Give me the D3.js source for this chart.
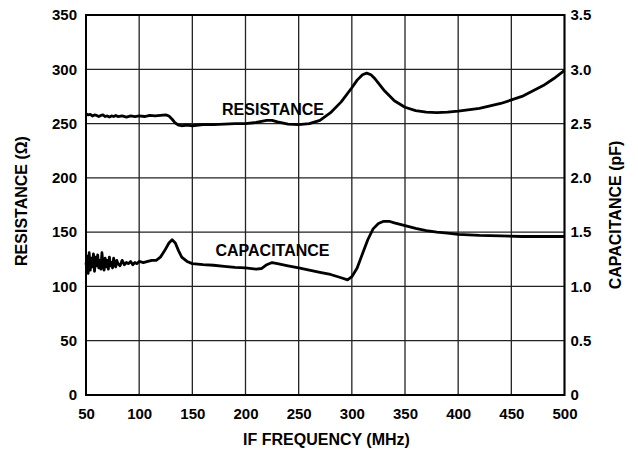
<!DOCTYPE html>
<html><head><meta charset="utf-8">
<script src="https://cdn.jsdelivr.net/npm/d3@7"></script>
<style>body{margin:0;background:#fff}svg{display:block}text{font-family:"Liberation Sans",Arial,sans-serif;font-weight:bold;fill:#000}</style>
</head><body><svg id="c" width="638" height="452"></svg>
<script>
const xTicks=[50,100,150,200,250,300,350,400,450,500];
const yTicksLeft=[0,50,100,150,200,250,300,350];
const yTicksRight=[0,0.5,1.0,1.5,2.0,2.5,3.0,3.5];
const yTicksRightLabels=["0","0.5","1.0","1.5","2.0","2.5","3.0","3.5"];
const resFreq=[50,52,54,56,58,60,62,64,66,68,70,72,74,76,78,80,84,88,92,96,100,105,110,115,120,125,128,131,134,137,140,145,150,160,170,180,190,200,210,215,220,225,230,240,250,260,270,280,290,300,305,310,314,318,322,330,340,350,360,370,380,390,400,420,440,460,480,490,500];
const resVal=[259,258,258.5,257,258,257.5,256.5,257.5,258,256.5,257,256,257,256.5,257.5,256.5,257,256,257,256.5,257,256.5,257.5,257,257.5,258,257,254,250.5,248.5,248,248.5,248,249,249,249.5,250,250,251,252,253,253,251.5,249.5,249,250,253,260,270,283,290,295,296.5,295,291,281,271,265,262,260.5,260,260.5,261.5,264,268.5,275,285,291.5,299];
const capFreq=[50,51,52,53,54,55,56,57,58,59,60,61,62,63,64,65,66,67,68,69,70,71,72,73,74,75,76,77,78,79,80,82,84,86,88,90,92,94,96,98,100,104,108,112,116,120,124,128,131,134,137,140,145,150,160,170,180,190,200,210,215,220,225,230,240,250,260,270,280,290,296,300,305,310,315,320,325,330,335,340,350,360,370,380,390,400,420,440,460,480,500];
const capVal=[120,128,112,131,115,126,118,130,114,127,119,129,117,124,116,131,120,115,126,118,124,116,127,119,122,117,126,120,118,124,121,119,124,120,122,121,123,120,122,121,123,122,123,124,124,127,133,140,143,140,133,127,123,121,120,119.5,118.5,117.5,117,116,116.5,120,122,121,119,117,115,113,111,108,106,109,117,130,143,153,158,160,160,158.5,156,153.5,151.5,150,149,148,147,146.5,146,146,146];

const svg=d3.select("#c");
const L=86,R=564.5,T=15,B=395;
const x=d3.scaleLinear().domain([50,500]).range([L,R]);
const y=d3.scaleLinear().domain([0,350]).range([B,T]);
const y2=d3.scaleLinear().domain([0,3.5]).range([B,T]);

const g=svg.append("g");
g.selectAll(".vx").data(xTicks).enter().append("line").attr("x1",d=>x(d)).attr("x2",d=>x(d)).attr("y1",T).attr("y2",B).attr("stroke","#222").attr("stroke-width",1.3);
g.selectAll(".hy").data(yTicksLeft).enter().append("line").attr("y1",d=>y(d)).attr("y2",d=>y(d)).attr("x1",L).attr("x2",R).attr("stroke","#222").attr("stroke-width",1.3);
g.append("rect").attr("x",L).attr("y",T).attr("width",R-L).attr("height",B-T).attr("fill","none").attr("stroke","#000").attr("stroke-width",2);

const ax=svg.append("g").attr("transform",`translate(0,${B})`).call(d3.axisBottom(x).tickValues(xTicks).tickSize(0).tickPadding(13).tickFormat(d3.format("d")));
const ay=svg.append("g").attr("transform",`translate(${L},0)`).call(d3.axisLeft(y).tickValues(yTicksLeft).tickSize(0).tickPadding(9).tickFormat(d3.format("d")));
const ay2=svg.append("g").attr("transform",`translate(${R},0)`).call(d3.axisRight(y2).tickValues(yTicksRight).tickSize(0).tickPadding(6).tickFormat((d,i)=>yTicksRightLabels[i]));
[ax,ay,ay2].forEach(a=>{a.select(".domain").remove();a.selectAll("text").attr("font-size",15).attr("font-family","Liberation Sans, Arial, sans-serif").attr("font-weight","bold").attr("fill","#000");});

const line=d3.line().x(d=>x(d[0])).y(d=>y(d[1]));
svg.append("path").datum(resFreq.map((f,i)=>[f,resVal[i]])).attr("d",line).attr("fill","none").attr("stroke","#000").attr("stroke-width",2.8).attr("stroke-linejoin","round");
svg.append("path").datum(capFreq.map((f,i)=>[f,capVal[i]])).attr("d",line).attr("fill","none").attr("stroke","#000").attr("stroke-width",2.8).attr("stroke-linejoin","round");

svg.append("text").attr("x",273).attr("y",115).attr("text-anchor","middle").attr("font-size",16).text("RESISTANCE");
svg.append("text").attr("x",272.5).attr("y",256).attr("text-anchor","middle").attr("font-size",16).text("CAPACITANCE");

svg.append("text").attr("x",326.5).attr("y",445).attr("text-anchor","middle").attr("font-size",16).text("IF FREQUENCY (MHz)");
svg.append("text").attr("transform",`translate(26.5,201) rotate(-90)`).attr("text-anchor","middle").attr("font-size",16).text("RESISTANCE (Ω)");
svg.append("text").attr("transform",`translate(621,215) rotate(-90)`).attr("text-anchor","middle").attr("font-size",16).text("CAPACITANCE (pF)");
</script></body></html>
